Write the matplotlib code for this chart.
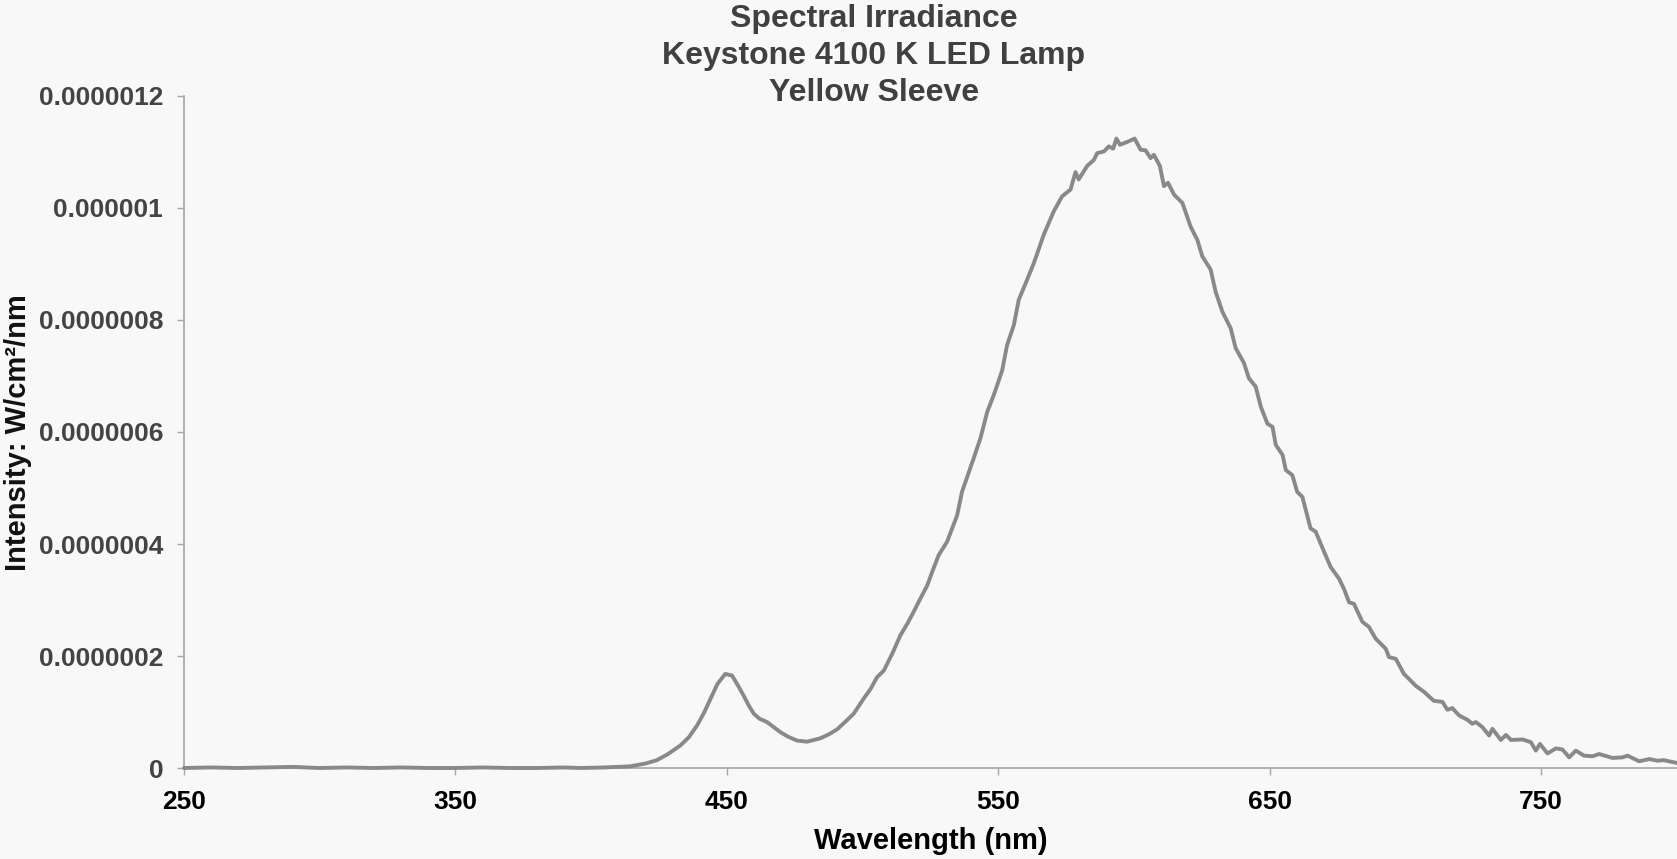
import numpy as np
import matplotlib
matplotlib.use("Agg")
import matplotlib.pyplot as plt

# ---- data (intensity in units of 1e-7 W/cm^2/nm) ----
wavelength_nm = [
    250, 260, 270, 280, 290, 300, 310, 320, 330, 340, 350, 360, 370, 380, 390,
    396, 405, 414.4, 420, 424.2, 428, 432.8, 436, 439, 441.5, 443.9, 446.5,
    449.4, 451.9, 454, 456.2, 458, 459.9, 462, 464.8, 467, 469.7, 472.5, 475.8,
    479.5, 484.4, 487.5, 490.6, 493.5, 496.7, 500.4, 502.9, 505.3, 507.8, 511,
    513.9, 516.5, 518.8, 521, 523.8, 526, 528.0, 531.1, 534.8, 536.6, 540.9,
    543.4, 545.9, 548.3, 549.6, 551.4, 553.2, 555.7, 557.5, 560.6, 563.1, 566.7,
    570.4, 573.5, 576.6, 578.4, 579.6, 582.7, 585.2, 586.4, 588.9, 590.7, 592.3,
    593.5, 594.8, 597.5, 600.2, 602.4, 604.2, 606.1, 607.3, 609.5, 611.0, 612.5,
    614.7, 617.8, 620.8, 623.3, 625.1, 628.2, 630.0, 632.5, 635.6, 637.4, 640.5,
    642.3, 644.8, 646.7, 649.1, 651.0, 652.2, 654.7, 655.9, 658.3, 660.1, 662.0,
    665.0, 666.9, 670.0, 672.4, 675.5, 677.3, 679.2, 681.0, 684.1, 686.5, 689.0,
    692.7, 693.9, 696.4, 699.4, 701.9, 703.7, 706.8, 710.4, 713.6, 715.4, 717.2,
    719.7, 722.8, 724.6, 725.9, 728.3, 730.8, 732.0, 735.1, 737.0, 738.9, 743.1,
    746.2, 748.0, 749.5, 752.3, 755.4, 757.8, 760.3, 762.7, 765.8, 768.9, 771.3,
    776.2, 779.9, 781.8, 786.1, 789.8, 792.8, 795.1, 800,
]
intensity_e7 = [
    0.00, 0.01, 0.00, 0.01, 0.02, 0.00, 0.01, 0.00, 0.01, 0.00, 0.00, 0.01, 0.00, 0.00, 0.01,
    0.00, 0.01, 0.03, 0.08, 0.14, 0.24, 0.40, 0.55, 0.76, 0.98, 1.23, 1.50,
    1.68, 1.65, 1.48, 1.29, 1.12, 0.97, 0.88, 0.82, 0.74, 0.64, 0.56, 0.49,
    0.47, 0.53, 0.60, 0.69, 0.82, 0.97, 1.24, 1.41, 1.62, 1.74, 2.05,
    2.37, 2.58, 2.79, 3.00, 3.26, 3.55, 3.80, 4.04, 4.51, 4.93, 5.53,
    5.89, 6.36, 6.66, 6.84, 7.10, 7.55, 7.91, 8.36, 8.72, 9.02, 9.52,
    9.94, 10.21, 10.33, 10.64, 10.51, 10.75, 10.86, 10.98, 11.01, 11.10, 11.06,
    11.24, 11.13, 11.18, 11.24, 11.04, 11.03, 10.89, 10.95, 10.75, 10.39, 10.45,
    10.24, 10.09, 9.67, 9.43, 9.14, 8.90, 8.51, 8.15, 7.85, 7.50, 7.23,
    6.96, 6.81, 6.45, 6.15, 6.09, 5.77, 5.59, 5.32, 5.23, 4.93, 4.84,
    4.28, 4.22, 3.86, 3.59, 3.38, 3.20, 2.96, 2.93, 2.61, 2.52, 2.31,
    2.13, 1.98, 1.95, 1.68, 1.56, 1.47, 1.36, 1.20, 1.18, 1.04, 1.07,
    0.94, 0.86, 0.79, 0.82, 0.73, 0.58, 0.70, 0.50, 0.59, 0.50, 0.51,
    0.46, 0.31, 0.43, 0.26, 0.35, 0.33, 0.19, 0.31, 0.22, 0.21, 0.25,
    0.18, 0.19, 0.22, 0.12, 0.16, 0.13, 0.14, 0.09,
]
x_ticks = [250, 350, 450, 550, 650, 750]
x_tick_labels = ["250", "350", "450", "550", "650", "750"]
y_ticks = [0, 2e-7, 4e-7, 6e-7, 8e-7, 1e-6, 1.2e-6]
y_tick_labels = ["0", "0.0000002", "0.0000004", "0.0000006", "0.0000008",
                 "0.000001", "0.0000012"]
title_lines = ["Spectral Irradiance", "Keystone 4100 K LED Lamp", "Yellow Sleeve"]
x_label = "Wavelength (nm)"
y_label = "Intensity: W/cm²/nm"

plt.rcParams['font.family'] = ['Liberation Sans', 'DejaVu Sans']

W, H = 1677, 859
fig = plt.figure(figsize=(W / 100, H / 100), dpi=100)
bg = "#f8f8f8"
fig.patch.set_facecolor(bg)

left, right, top, bottom = 184, 1677, 96, 768
ax = fig.add_axes([left / W, 1 - bottom / H, (right - left) / W, (bottom - top) / H])
ax.set_facecolor(bg)

intensity = np.array(intensity_e7) * 1e-7
ax.plot(wavelength_nm, intensity, color="#898989", lw=2.8, solid_joinstyle="round",
        solid_capstyle="round", clip_on=False, zorder=3)

ax.set_xlim(250, 800)
ax.set_ylim(0, 1.2e-6)
ax.set_xticks(x_ticks)
ax.set_xticklabels(x_tick_labels, fontsize=19, fontweight="bold", color="#000000")
ax.set_yticks(y_ticks)
ax.set_yticklabels(y_tick_labels, fontsize=19, fontweight="bold", color="#444444")

for s in ["top", "right"]:
    ax.spines[s].set_visible(False)
for s in ["left", "bottom"]:
    ax.spines[s].set_color("#a6a6a6")
    ax.spines[s].set_linewidth(1.2)
ax.tick_params(axis="both", direction="out", length=5, width=1.0, color="#a6a6a6")
ax.tick_params(axis="x", pad=11)
ax.tick_params(axis="y", pad=10)

fig.text((left + right) / 2 / W, 1 - 841 / H, x_label, ha="center", va="center",
         fontsize=21, fontweight="bold", color="#000000")
fig.text(18 / W, 1 - 433 / H, y_label, ha="center", va="center", rotation=90,
         fontsize=21, fontweight="bold", color="#111111")

for line, yb in zip(title_lines, [27, 64, 101]):
    fig.text(874 / W, 1 - yb / H, line, ha="center", va="baseline",
             fontsize=23, fontweight="bold", color="#404040")

fig.savefig("out.png", dpi=100, facecolor=bg)
